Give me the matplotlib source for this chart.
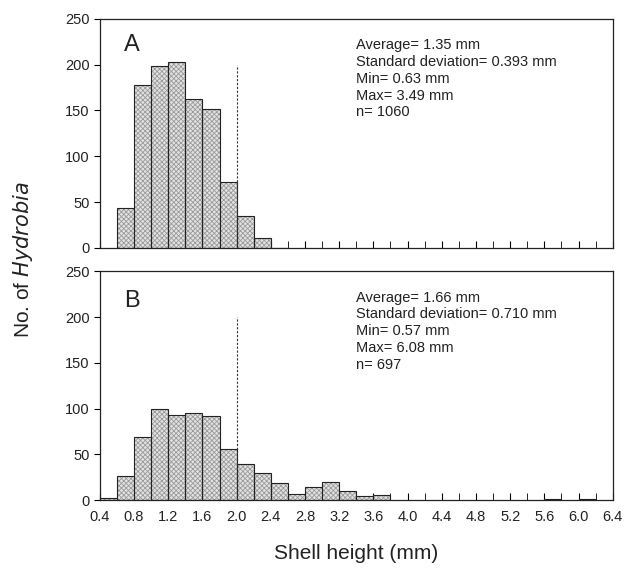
import numpy as np
import matplotlib.pyplot as plt
from matplotlib.ticker import MultipleLocator

plt.rcParams['font.family'] = ['Liberation Sans', 'DejaVu Sans']
plt.rcParams['hatch.linewidth'] = 0.6

# bin left edges (mm) and counts, bin width 0.2 mm
edges_a = [0.6, 0.8, 1.0, 1.2, 1.4, 1.6, 1.8, 2.0, 2.2, 2.4]
counts_a = [43, 178, 198, 203, 163, 152, 72, 35, 11, 0]

edges_b = [0.4, 0.6, 0.8, 1.0, 1.2, 1.4, 1.6, 1.8, 2.0, 2.2, 2.4, 2.6,
           2.8, 3.0, 3.2, 3.4, 3.6, 5.6, 6.0]
counts_b = [2, 26, 69, 100, 93, 95, 92, 56, 39, 30, 19, 7,
            14, 20, 10, 5, 6, 1.5, 1.5]

stats_a = "Average= 1.35 mm\nStandard deviation= 0.393 mm\nMin= 0.63 mm\nMax= 3.49 mm\nn= 1060"
stats_b = "Average= 1.66 mm\nStandard deviation= 0.710 mm\nMin= 0.57 mm\nMax= 6.08 mm\nn= 697"

width = 0.2

fig = plt.figure(figsize=(6.24, 5.71), dpi=100)
ax_a = fig.add_axes([0.160, 0.566, 0.822, 0.401])
ax_b = fig.add_axes([0.160, 0.124, 0.822, 0.401])


def draw_panel(ax, edges, counts, label, stats, show_labels, label_y):
    ax.bar(edges, counts, width=width, align='edge', color='#e2e2e2',
           edgecolor='#9a9a9a', hatch='xxxxxxx', linewidth=0, zorder=2)
    ax.bar(edges, counts, width=width, align='edge', fill=False,
           edgecolor='#222222', linewidth=0.8, zorder=3)
    ax.plot([2.0, 2.0], [0, 200], linestyle=(0, (2, 1.5)), color='#333333',
            linewidth=0.8, zorder=4)
    ax.set_xlim(0.4, 6.4)
    ax.set_ylim(0, 250)
    ax.yaxis.set_major_locator(MultipleLocator(50))
    ax.xaxis.set_major_locator(MultipleLocator(0.4))
    ax.xaxis.set_minor_locator(MultipleLocator(0.2))
    ax.tick_params(axis='y', direction='out', length=4, labelsize=10.5,
                   labelcolor='#222222')
    ax.tick_params(axis='x', which='both', direction='in', length=5,
                   labelsize=10.5, pad=7, labelcolor='#222222',
                   labelbottom=show_labels)
    ax.xaxis.set_major_formatter(plt.FuncFormatter(lambda v, p: f"{v:.1f}"))
    for s in ax.spines.values():
        s.set_linewidth(0.9)
        s.set_color('#222222')
    ax.text(0.047, label_y, label, transform=ax.transAxes, fontsize=17,
            va='center', ha='left', color='#222222')
    ax.text(0.500, 0.915, stats, transform=ax.transAxes, fontsize=10.5,
            va='top', ha='left', linespacing=1.25, color='#222222')


draw_panel(ax_a, edges_a, counts_a, 'A', stats_a, False, 0.885)
draw_panel(ax_b, edges_b, counts_b, 'B', stats_b, True, 0.87)

fig.text(0.037, 0.545, 'No. of $\\it{Hydrobia}$', rotation=90, fontsize=15,
         va='center', ha='center', color='#222222')
fig.text(0.57, 0.031, 'Shell height (mm)', fontsize=15, va='center',
         ha='center', color='#222222')

fig.savefig('out.png', dpi=100)
